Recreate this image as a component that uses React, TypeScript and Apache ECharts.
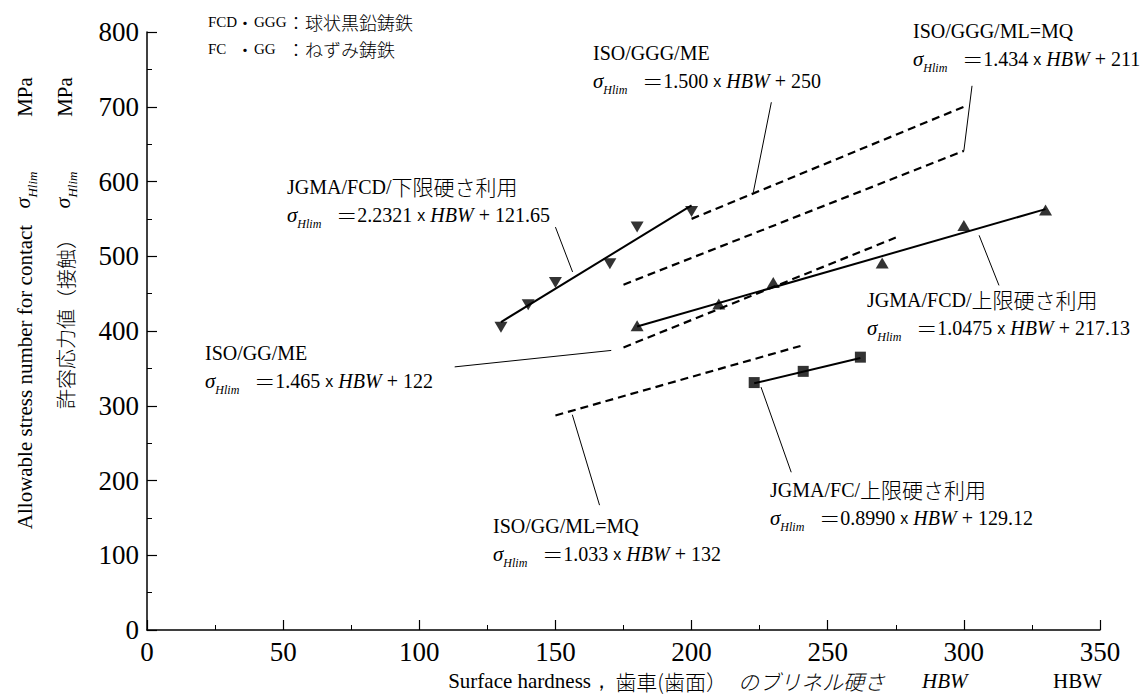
import React, { useEffect, useRef } from "react";
import * as echarts from "echarts";

const SERIF = "Liberation Serif, Times New Roman, serif";
const JP = "Noto Sans CJK JP, sans-serif";

// ---- data (HBW, σHlim MPa) ----
const fcdLowerHBW = [130, 140, 150, 170, 180, 200];
const fcdLowerStress = [405, 435, 465, 490, 539, 560];
const fcdLowerFit = [[130, 412], [200, 568]];

const fcdUpperHBW = [180, 210, 230, 270, 300, 330];
const fcdUpperStress = [407, 436, 465, 491, 541, 562];
const fcdUpperFit = [[180, 406], [330, 563]];

const fcHBW = [223, 241, 262];
const fcStress = [331, 346, 365];
const fcFit = [[223, 330], [262, 364]];

const isoGggMe = [[200, 550], [300, 700]];
const isoGggMl = [[175, 462], [300, 641]];
const isoGgMe = [[175, 378], [275, 525]];
const isoGgMl = [[150, 287], [240, 380]];

// leader lines (annotation pointers), in data coordinates
const leaders = [
  [[150.0, 539], [156.3, 479]],
  [[229.3, 706], [222.7, 586]],
  [[303.0, 728], [300.0, 641]],
  [[305.6, 528], [312.9, 461]],
  [[113.0, 352], [170.5, 374]],
  [[156.2, 288], [166.2, 167]],
  [[225.5, 325], [236.6, 211]],
];

const xTickLabels = ["0", "50", "100", "150", "200", "250", "300", "350"];
const yTickLabels = ["0", "100", "200", "300", "400", "500", "600", "700", "800"];

const pair = (xs: number[], ys: number[]) => xs.map((x, i) => [x, ys[i]]);

const base = { fontFamily: SERIF, fontSize: 20, fill: "#000", verticalAlign: "top", padding: [0, 0, 5, 0] };
const RICH: any = {
  n: { ...base },
  j: { ...base, fontFamily: JP, fontWeight: 300, fontSize: 21, padding: [-1, 0, 5, 0] },
  i: { ...base, fontStyle: "italic" },
  x: { ...base, fontFamily: "Liberation Sans, sans-serif", fontSize: 16, padding: [3, 0, 5, 0] },
  s: { ...base, fontStyle: "italic", fontSize: 21, padding: [0, 0, 4, 0] },
  sub: { fontFamily: SERIF, fontSize: 12, fontStyle: "italic", fill: "#000", verticalAlign: "bottom" },
};

const txt = (x: number, y: number, text: string, extra: any = {}) => ({
  type: "text",
  x,
  y,
  silent: true,
  style: { text, rich: RICH, fill: "#000", align: "left", verticalAlign: "middle", fontFamily: SERIF, fontSize: 20, ...extra },
});

const eq = (coef: string, inter: string) =>
  `{s|σ}{sub|Hlim}{n|   }{j|＝}{n|${coef} }{x|x}{n| }{i|HBW}{n| + ${inter}}`;

function label(x: number, y: number, title: string, coef: string, inter: string) {
  return [
    txt(x, y, title.replace(/([^\x00-\x7F]+)/g, "}{j|$1}{n|").replace(/^/, "{n|") + "}"),
    txt(x, y + 28, eq(coef, inter)),
  ];
}

const SMALL = { fontFamily: SERIF, fontSize: 15, fill: "#000", verticalAlign: "middle" };
const SMALLJ = { fontFamily: JP, fontWeight: 300, fontSize: 18, fill: "#000", verticalAlign: "middle" };

export default function App() {
  const ref = useRef<HTMLDivElement>(null);
  useEffect(() => {
    const chart = echarts.init(ref.current!, null, { renderer: "svg" });
    const axisCommon = {
      type: "value",
      axisLine: { show: true, lineStyle: { color: "#000", width: 1.5 } },
      axisTick: { show: true, inside: true, length: 10, lineStyle: { color: "#000", width: 1.2 } },
      minorTick: { show: true, splitNumber: 2, length: 5, lineStyle: { color: "#000", width: 1 } },
      splitLine: { show: false },
      axisLabel: { color: "#000", fontFamily: SERIF, fontSize: 27, margin: 8 },
    };
    const solid = (data: any, z = 3) => ({
      type: "line", data, symbol: "none", silent: true, z,
      lineStyle: { color: "#000", width: 2 },
    });
    const dashed = (data: any) => ({
      type: "line", data, symbol: "none", silent: true, z: 2,
      lineStyle: { color: "#000", width: 2.2, type: [8, 5] },
    });
    const leader = (data: any) => ({
      type: "line", data, symbol: "none", silent: true, z: 1,
      lineStyle: { color: "#000", width: 1 },
    });
    const marks = (data: any, symbol: string, size: any) => ({
      type: "scatter", data, symbol, symbolSize: size, silent: true, z: 5,
      itemStyle: { color: "#000" },
    });

    const ySub = {
      s: { fontFamily: SERIF, fontSize: 22, fontStyle: "italic", fill: "#000", verticalAlign: "top", padding: [0, 0, 5, 0] },
      sub: { fontFamily: SERIF, fontSize: 13, fontStyle: "italic", fill: "#000", verticalAlign: "bottom" },
    };
    const rot = (x: number, y: number, text: string, style: any = {}) => ({
      type: "text", x, y, rotation: Math.PI / 2, silent: true,
      style: { text, fill: "#000", align: "center", verticalAlign: "middle", fontFamily: SERIF, fontSize: 21, rich: ySub, ...style },
    });
    const plain = (x: number, y: number, text: string, style: any) => ({
      type: "text", x, y, silent: true, style: { text, verticalAlign: "middle", fill: "#000", ...style },
    });

    const graphic: any[] = [
      // top-left material key
      plain(208, 22, "FCD", SMALL),
      plain(236, 22, "・", SMALLJ),
      plain(254, 22, "GGG", SMALL),
      plain(287, 22, "：球状黒鉛鋳鉄", SMALLJ),
      plain(208, 49, "FC", SMALL),
      plain(236, 49, "・", SMALLJ),
      plain(254, 49, "GG", SMALL),
      plain(287, 49, "：ねずみ鋳鉄", SMALLJ),

      ...label(287, 189, "JGMA/FCD/下限硬さ利用", "2.2321", "121.65"),
      ...label(593, 55, "ISO/GGG/ME", "1.500", "250"),
      ...label(913, 33, "ISO/GGG/ML=MQ", "1.434", "211"),
      ...label(867, 302, "JGMA/FCD/上限硬さ利用", "1.0475", "217.13"),
      ...label(205, 355, "ISO/GG/ME", "1.465", "122"),
      ...label(493, 528, "ISO/GG/ML=MQ", "1.033", "132"),
      ...label(770, 492, "JGMA/FC/上限硬さ利用", "0.8990", "129.12"),

      // y-axis titles (rotated)
      rot(25, 377, "Allowable stress number for contact"),
      rot(25, 190, "{s|σ}{sub|Hlim}"),
      rot(25, 97, "MPa"),
      rot(65, 319, "許容応力値（接触）", { fontFamily: JP, fontWeight: 300, fontSize: 20 }),
      rot(65, 190, "{s|σ}{sub|Hlim}"),
      rot(65, 97, "MPa"),

      // x-axis title pieces
      plain(612, 681, "Surface hardness，", { fontFamily: SERIF, fontSize: 21, align: "right" }),
      plain(727, 681, "歯車(歯面）", { fontFamily: JP, fontWeight: 300, fontSize: 21, align: "right" }),
      plain(885, 681, "のブリネル硬さ", { fontFamily: JP, fontWeight: 300, fontSize: 21, fontStyle: "italic", align: "right" }),
      plain(922, 681, "HBW", { fontFamily: SERIF, fontSize: 21, fontStyle: "italic", align: "left" }),
      plain(1102, 681, "HBW", { fontFamily: SERIF, fontSize: 21, align: "right" }),
    ];

    chart.setOption({
      animation: false,
      backgroundColor: "#fff",
      grid: { left: 147, right: 47, top: 32, bottom: 67, containLabel: false },
      xAxis: { ...axisCommon, min: 0, max: 350, interval: 50,
        axisLabel: { ...axisCommon.axisLabel, formatter: (v: number) => xTickLabels[Math.round(v / 50)] ?? String(v) } },
      yAxis: { ...axisCommon, min: 0, max: 800, interval: 100,
        axisLabel: { ...axisCommon.axisLabel, formatter: (v: number) => yTickLabels[Math.round(v / 100)] ?? String(v) } },
      series: [
        ...leaders.map(leader),
        dashed(isoGggMe),
        dashed(isoGggMl),
        dashed(isoGgMe),
        dashed(isoGgMl),
        solid(fcdLowerFit),
        solid(fcdUpperFit),
        solid(fcFit),
        marks(pair(fcdLowerHBW, fcdLowerStress), "path://M0,0L20,0L10,17Z", [13, 11]),
        marks(pair(fcdUpperHBW, fcdUpperStress), "triangle", [13, 11]),
        marks(pair(fcHBW, fcStress), "rect", [11, 11]),
      ],
      graphic,
    });
    return () => chart.dispose();
  }, []);
  return <div ref={ref} style={{ position: "fixed", left: 0, top: 0, width: 1147, height: 697, background: "#fff" }} />;
}
